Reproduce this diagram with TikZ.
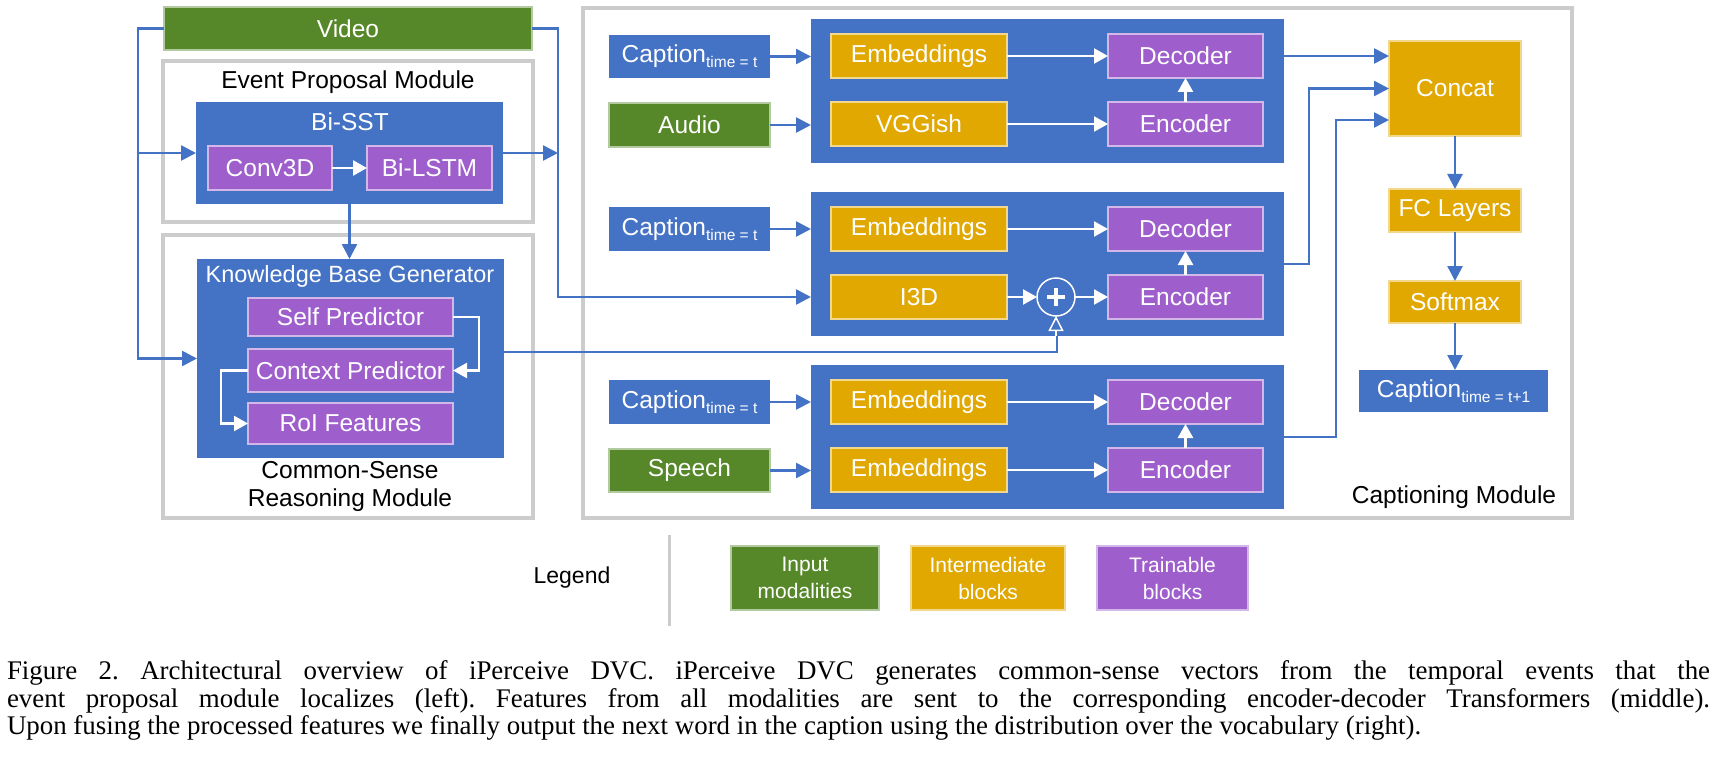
\documentclass[tikz,border=0pt]{standalone}
\usepackage{fontspec}
\setmainfont{Liberation Sans}
\newfontfamily\capfont{Liberation Serif}
\usetikzlibrary{arrows.meta,calc}
\definecolor{cblue}{RGB}{68,114,196}
\definecolor{cgreen}{RGB}{86,136,41}
\definecolor{cgold}{RGB}{224,168,0}
\definecolor{cpurple}{RGB}{158,94,204}
\definecolor{cgray}{RGB}{204,204,204}
\newcommand\mybox[7]{\node[#1, minimum width={(#5-#3)*1pt}, minimum height={(#6-#4)*1pt}] (#2) at ({(#3+#5)/2},{(#4+#6)/2}) {#7};}
\newcommand\capsub[1]{Caption\raisebox{-5pt}{\fontsize{15.5}{16}\selectfont #1}}
\newcommand\fs[1]{\fontsize{#1}{#1}\selectfont}
\tikzset{
  base/.style={inner sep=0pt, outer sep=0pt, align=center, text=white, font=\fontsize{24.5}{28}\selectfont},
  module/.style={base, draw=cgray, line width=4pt},
  cont/.style={base, fill=cblue},
  inp/.style={base, fill=cgreen, draw=white!55!cgreen, line width=1.2pt},
  inter/.style={base, fill=cgold, draw=white!55!cgold, line width=1.2pt},
  train/.style={base, fill=cpurple, draw=white!55!cpurple, line width=1.2pt},
  lbl/.style={inner sep=0pt, outer sep=0pt, align=center, text=black, font=\fontsize{24.5}{28}\selectfont},
  wtxt/.style={inner sep=0pt, outer sep=0pt, text=white, font=\fontsize{24.5}{28}\selectfont},
  bline/.style={draw=cblue, line width=2.6pt},
  barrow/.style={draw=cblue, line width=2.6pt, -{Triangle[length=15pt,width=15pt]}},
  warrow/.style={draw=white, line width=2.4pt, -{Triangle[length=14pt,width=15pt]}},
  oarrow/.style={draw=white, line width=1.5pt, -{Triangle[open,length=15pt,width=15pt]}},
  plusc/.style={circle, draw=white, line width=1.5pt, minimum size=38pt, inner sep=0pt, outer sep=0pt},
  captext/.style={inner sep=0pt, outer sep=0pt, anchor=base west, font=\capfont\fontsize{26.9}{27.6}\selectfont\frenchspacing},
}
\begin{document}
\begin{tikzpicture}[x=1pt,y=-1pt]
\useasboundingbox (0,0) rectangle (1721,770);
% modules
\mybox{module}{epm}{163}{61}{533}{222}{}
\mybox{module}{csr}{163}{235}{533}{518}{}
\mybox{module}{capm}{583}{8}{1572}{518}{}
\node[lbl] (epmt) at (348,82) {Event Proposal Module};
\node[lbl] (csrt) at (350,486) {Common-Sense\\Reasoning Module};
\node[lbl] (capmt) at (1454,497) {Captioning Module};
% left
\mybox{inp}{video}{164}{7}{532}{50}{Video}
\mybox{cont}{bisst}{196}{102}{503}{204}{}
\node[wtxt] (bisstt) at (350,122) {Bi-SST};
\mybox{train}{conv}{208}{146}{332}{190}{Conv3D}
\mybox{train}{bilstm}{367}{146}{492}{190}{Bi-LSTM}
\mybox{cont}{kbg}{197}{259}{504}{458}{}
\node[wtxt, font=\fs{23.5}] (kbgt) at (350,276) {Knowledge Base Generator};
\mybox{train}{self}{248}{298}{453}{336}{Self Predictor}
\mybox{train}{ctx}{248}{349}{453}{392}{Context Predictor}
\mybox{train}{roi}{248}{403}{453}{444}{RoI Features}
% middle
\mybox{cont}{cap1}{609}{35}{770}{78}{\capsub{time = t}}
\mybox{inp}{audio}{609}{103}{770}{147}{Audio}
\mybox{cont}{g1}{811}{19}{1284}{163}{}
\mybox{inter}{emb1}{831}{34}{1007}{78}{Embeddings}
\mybox{inter}{vgg}{831}{102}{1007}{146}{VGGish}
\mybox{train}{dec1}{1108}{34}{1263}{78}{Decoder}
\mybox{train}{enc1}{1108}{102}{1263}{146}{Encoder}
\mybox{cont}{cap2}{609}{207}{770}{251}{\capsub{time = t}}
\mybox{cont}{g2}{811}{192}{1284}{336}{}
\mybox{inter}{emb2}{831}{207}{1007}{251}{Embeddings}
\mybox{inter}{i3d}{831}{275}{1007}{319}{I3D}
\mybox{train}{dec2}{1108}{207}{1263}{251}{Decoder}
\mybox{train}{enc2}{1108}{275}{1263}{319}{Encoder}
\node[plusc] (plus) at (1056,297) {};
\draw[white, line width=4pt] ($(plus.center)+(-9,0)$) -- ($(plus.center)+(9,0)$);
\draw[white, line width=4pt] ($(plus.center)+(0,-9)$) -- ($(plus.center)+(0,9)$);
\mybox{cont}{cap3}{609}{380}{770}{424}{\capsub{time = t}}
\mybox{inp}{speech}{609}{449}{770}{492}{Speech}
\mybox{cont}{g3}{811}{365}{1284}{509}{}
\mybox{inter}{emb3}{831}{380}{1007}{424}{Embeddings}
\mybox{inter}{emb4}{831}{448}{1007}{492}{Embeddings}
\mybox{train}{dec3}{1108}{380}{1263}{424}{Decoder}
\mybox{train}{enc3}{1108}{448}{1263}{492}{Encoder}
% right
\mybox{inter}{concat}{1389}{41}{1521}{136}{Concat}
\mybox{inter}{fc}{1389}{189}{1521}{232}{FC Layers}
\mybox{inter}{soft}{1389}{281}{1521}{323}{Softmax}
\mybox{cont}{capout}{1359}{370}{1548}{412}{\capsub{time = t+1}}
% legend
\node[lbl, font=\fs{23}] (legend) at (572,578) {Legend};
\draw[draw=cgray, line width=3pt] (669,535) -- (669,626);
\mybox{inp, font=\fontsize{21}{27}\selectfont}{lg1}{731}{546}{879}{610}{Input\\modalities}
\mybox{inter, font=\fontsize{21}{27}\selectfont}{lg2}{911}{546}{1065}{610}{Intermediate\\blocks}
\mybox{train, font=\fontsize{21}{27}\selectfont}{lg3}{1097}{546}{1248}{610}{Trainable\\blocks}
% connectors left
\coordinate (vl) at (138,153);
\coordinate (vr) at (558,297);
\draw[barrow] (video.west) -| ($(kbg.west)+(-59,0)$) -- (kbg.west);
\draw[barrow] (vl) -- (bisst.west);
\draw[barrow] (video.east) -| (vr) -- (g2.west |- vr);
\draw[barrow] (bisst.east) -- (bisst.east -| vr);
\draw[barrow] (bisst.south) -- (bisst.south |- kbg.north);
\draw[warrow] (conv.east) -- (bilstm.west);
\draw[warrow] (self.east) -- ++(26,0) |- (ctx.east);
\draw[warrow] (ctx.west) -- ++(-27,0) |- (roi.west);
\coordinate (kp) at (1057,352);
\draw[bline] (kbg.east |- kp) -- (kp) -- (kp |- g2.south);
\draw[oarrow] (plus.south |- g2.south) -- (plus.south);
% connectors middle
\draw[barrow] (cap1.east) -- (cap1.east -| g1.west);
\draw[barrow] (audio.east) -- (audio.east -| g1.west);
\draw[barrow] (cap2.east) -- (cap2.east -| g2.west);
\draw[barrow] (cap3.east) -- (cap3.east -| g3.west);
\draw[barrow] (speech.east) -- (speech.east -| g3.west);
\draw[warrow] (emb1.east) -- (dec1.west);
\draw[warrow] (vgg.east) -- (enc1.west);
\draw[warrow] (enc1.north) -- (dec1.south);
\draw[warrow] (emb2.east) -- (dec2.west);
\draw[warrow] (i3d.east) -- (plus.west);
\draw[warrow] (plus.east) -- (enc2.west);
\draw[warrow] (enc2.north) -- (dec2.south);
\draw[warrow] (emb3.east) -- (dec3.west);
\draw[warrow] (emb4.east) -- (enc3.west);
\draw[warrow] (enc3.north) -- (dec3.south);
% connectors right
\draw[barrow] (g1.east |- dec1.east) -- (concat.west |- dec1.east);
\draw[barrow] (g2.east) -- ++(25,0) |- (concat.west);
\draw[barrow] (g3.east) -- ++(52,0) |- ([yshift=-31.5pt]concat.west);
\draw[barrow] (concat.south) -- (fc.north);
\draw[barrow] (fc.south) -- (soft.north);
\draw[barrow] (soft.south) -- (soft.south |- capout.north);
% caption
\node[captext] (cl1) at (7,679) {\makebox[1703pt][s]{Figure 2. Architectural overview of iPerceive DVC. iPerceive DVC generates common-sense vectors from the temporal events that the}};
\node[captext] (cl2) at (7,707) {\makebox[1703pt][s]{event proposal module localizes (left). Features from all modalities are sent to the corresponding encoder-decoder Transformers (middle).}};
\node[captext] (cl3) at (7,734) {Upon fusing the processed features we finally output the next word in the caption using the distribution over the vocabulary (right).};
\end{tikzpicture}
\end{document}
